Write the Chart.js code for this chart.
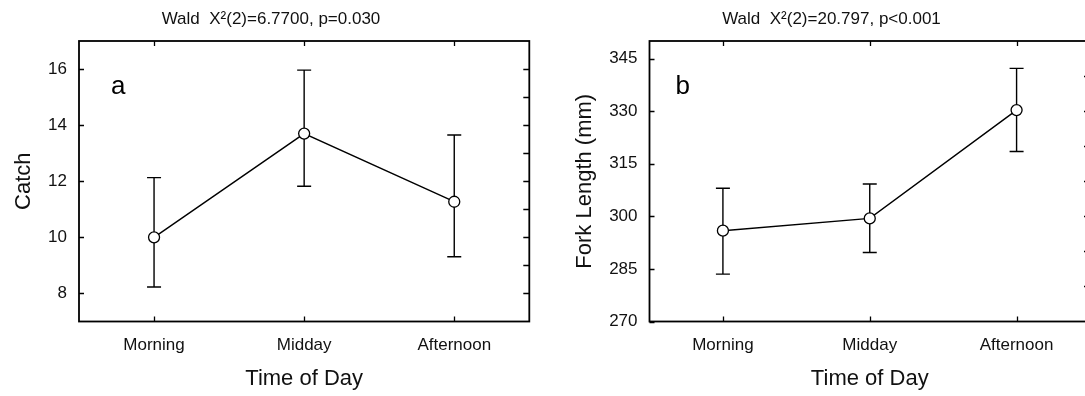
<!DOCTYPE html>
<html><head><meta charset="utf-8">
<script src="https://cdn.jsdelivr.net/npm/chart.js@4.4.1/dist/chart.umd.min.js"></script>
<style>
html,body{margin:0;padding:0;background:#fff;overflow:hidden;width:1085px;height:396px;}
#wa{position:absolute;left:0;top:0;width:542px;height:396px;}
#wb{position:absolute;left:542px;top:0;width:579px;height:396px;}
</style></head><body>
<div id="wa"><canvas id="ca" width="542" height="396"></canvas></div>
<div id="wb"><canvas id="cb" width="579" height="396"></canvas></div>
<script>
// ---- data ----
const categories = ['Morning', 'Midday', 'Afternoon'];
const catchMean  = [10.0, 13.70, 11.27];
const catchUpper = [12.13, 15.96, 13.65];
const catchLower = [8.23, 11.82, 9.31];
const forkMean   = [295.9, 299.4, 330.3];
const forkUpper  = [308.0, 309.2, 342.2];
const forkLower  = [283.5, 289.7, 318.5];
const catchTicks = [8, 10, 12, 14, 16];
const catchRightTicks = [8, 9, 10, 11, 12, 13, 14, 15, 16];
const forkTicks = [270, 285, 300, 315, 330, 345];
const forkRightTicks = [280, 290, 300, 310, 320, 330, 340];
const xTickValues = [0, 1, 2];

const FONT = '"Liberation Sans", Arial, sans-serif';
Chart.defaults.font.family = FONT;
Chart.defaults.color = '#111';

function panelPlugin(upper, lower, letter, letterDx) {
  return {
    id: 'panel' + letter,
    beforeDatasetsDraw(chart) {
      const {ctx} = chart, xs = chart.scales.x, ys = chart.scales.y;
      ctx.save();
      ctx.strokeStyle = '#000';
      ctx.lineWidth = 1.4;
      upper.forEach((u, i) => {
        const x = xs.getPixelForValue(i);
        const yu = ys.getPixelForValue(u), yl = ys.getPixelForValue(lower[i]);
        ctx.beginPath();
        ctx.moveTo(x, yu); ctx.lineTo(x, yl);
        ctx.moveTo(x - 7, yu); ctx.lineTo(x + 7, yu);
        ctx.moveTo(x - 7, yl); ctx.lineTo(x + 7, yl);
        ctx.stroke();
      });
      ctx.restore();
    },
    afterDraw(chart) {
      const {ctx, chartArea: a} = chart, xs = chart.scales.x, ys = chart.scales.y, y2 = chart.scales.y2;
      ctx.save();
      ctx.strokeStyle = '#000';
      ctx.lineWidth = 1.3;
      ctx.beginPath();
      ys.ticks.forEach(t => { const y = Math.round(ys.getPixelForValue(t.value)) + 0.5; ctx.moveTo(a.left, y); ctx.lineTo(a.left + 5, y); });
      y2.ticks.forEach(t => { const y = Math.round(y2.getPixelForValue(t.value)) + 0.5; ctx.moveTo(a.right, y); ctx.lineTo(a.right - 6, y); });
      xs.ticks.forEach(t => { const x = Math.round(xs.getPixelForValue(t.value)) + 0.5; ctx.moveTo(x, a.bottom); ctx.lineTo(x, a.bottom - 5); ctx.moveTo(x, a.top); ctx.lineTo(x, a.top + 5); });
      ctx.stroke();
      ctx.lineWidth = 1.8;
      ctx.strokeRect(a.left, a.top, a.right - a.left, a.bottom - a.top);
      ctx.fillStyle = '#000';
      ctx.font = '26px ' + FONT;
      ctx.textAlign = 'left';
      ctx.textBaseline = 'alphabetic';
      ctx.fillText(letter, a.left + letterDx, 94);
      ctx.restore();
    }
  };
}

function makeChart(id, title, yTitle, mean, upper, lower, yMin, yMax, yTicks, rightTicks, yW, y2W, yTitlePad, letter, letterDx) {
  return new Chart(document.getElementById(id), {
    type: 'line',
    data: {
      datasets: [{
        data: mean.map((v, i) => ({x: i, y: v})),
        borderColor: '#000', borderWidth: 1.4,
        pointRadius: 5.5, pointBackgroundColor: '#fff', pointBorderColor: '#000', pointBorderWidth: 1.3,
        tension: 0
      }]
    },
    options: {
      responsive: false, animation: false, devicePixelRatio: 1,
      layout: {padding: 0},
      plugins: {
        legend: {display: false}, tooltip: {enabled: false},
        title: {display: true, text: title, color: '#111', font: {size: 17, weight: 'normal'}, padding: {top: 9.5, bottom: 11.1}}
      },
      scales: {
        x: {
          type: 'linear', position: 'bottom', min: -0.5, max: 2.5,
          afterBuildTicks: s => { s.ticks = xTickValues.map(v => ({value: v})); },
          afterFit: s => { s.height = 74.5; },
          ticks: {font: {size: 17}, padding: 14, color: '#111', maxRotation: 0, callback: v => categories[v]},
          grid: {display: false, drawTicks: false}, border: {display: false},
          title: {display: true, text: 'Time of Day', color: '#111', font: {size: 22}, padding: {top: 0, bottom: 3.8}}
        },
        y: {
          type: 'linear', position: 'left', min: yMin, max: yMax,
          afterBuildTicks: s => { s.ticks = yTicks.map(v => ({value: v})); },
          afterFit: s => { s.width = yW; },
          ticks: {font: {size: 17}, padding: 12, color: '#111'},
          grid: {display: false, drawTicks: false}, border: {display: false},
          title: {display: true, text: yTitle, color: '#111', font: {size: 22}, padding: {top: yTitlePad, bottom: 0}}
        },
        y2: {
          type: 'linear', position: 'right', min: yMin, max: yMax,
          afterBuildTicks: s => { s.ticks = rightTicks.map(v => ({value: v})); },
          afterFit: s => { s.width = y2W; },
          ticks: {display: false}, grid: {display: false, drawTicks: false}, border: {display: false}
        }
      }
    },
    plugins: [panelPlugin(upper, lower, letter, letterDx)]
  });
}

makeChart('ca', 'Wald  X\u00B2(2)=6.7700, p=0.030', 'Catch', catchMean, catchUpper, catchLower, 7, 17, catchTicks, catchRightTicks, 79, 12.7, 11, 'a', 32);
makeChart('cb', 'Wald  X\u00B2(2)=20.797, p<0.001', 'Fork Length (mm)', forkMean, forkUpper, forkLower, 270, 350, forkTicks, forkRightTicks, 107.5, 31, 30, 'b', 26);
</script>
</body></html>
